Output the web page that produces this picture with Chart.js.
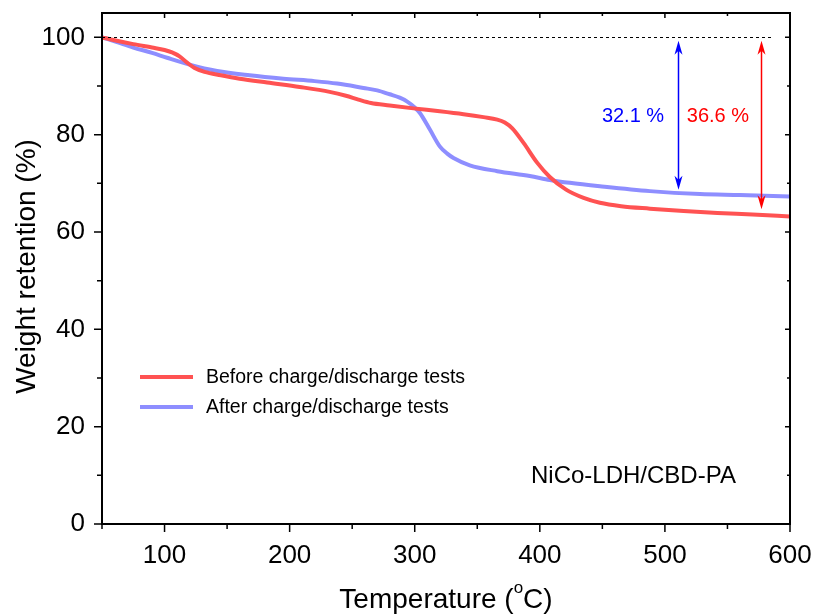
<!DOCTYPE html>
<html>
<head>
<meta charset="utf-8">
<script src="https://cdn.jsdelivr.net/npm/chart.js@4.4.1/dist/chart.umd.min.js"></script>
<style>
  html, body { margin: 0; padding: 0; background: #fff; }
  #wrap { width: 818px; height: 616px; }
</style>
</head>
<body>
<div id="wrap"><canvas id="c" width="818" height="616"></canvas></div>
<script>
// ---- Data ----
const seriesLabels = ['Before charge/discharge tests', 'After charge/discharge tests'];

const beforeTemps = [50, 60, 75, 90, 100, 106, 112, 118, 124, 132, 145, 160, 182, 208, 232, 245, 255, 265, 280, 299, 320, 339, 355, 366, 372, 378, 387, 398, 408, 421, 435, 448, 465, 488, 515, 542, 570, 600];
const beforeValues = [100, 99.4, 98.6, 97.9, 97.4, 96.9, 96.1, 94.8, 93.7, 92.9, 92.2, 91.5, 90.7, 89.8, 88.8, 88.0, 87.2, 86.5, 86.0, 85.4, 84.8, 84.2, 83.6, 83.1, 82.5, 81.3, 78.3, 74.2, 71.3, 68.7, 67.0, 66.0, 65.3, 64.8, 64.3, 63.9, 63.6, 63.2];

const afterTemps = [50, 62, 75, 90, 102, 120, 142, 168, 195, 220, 238, 259, 270, 280, 288, 294, 300, 304, 312, 320, 326, 331, 344, 366, 392, 408, 424, 448, 488, 528, 560, 600];
const afterValues = [100, 99.0, 97.9, 96.8, 95.8, 94.4, 93.1, 92.2, 91.5, 91.0, 90.5, 89.6, 89.1, 88.3, 87.6, 86.8, 85.6, 84.5, 81.1, 77.6, 76.1, 75.2, 73.7, 72.5, 71.5, 70.7, 70.1, 69.4, 68.4, 67.8, 67.6, 67.3];

const xTickLabels = [100, 200, 300, 400, 500, 600];
const yTickLabels = [0, 20, 40, 60, 80, 100];

// reference (100 %) dashed line
const refLineValue = 100;
const refLineRange = [50, 586];

// loss arrows and their labels
const arrowTemps = [510.5, 577];
const arrowTop = [99.3, 99.3];
const arrowBottom = [68.7, 64.7];
const lossLabels = ['32.1 %', '36.6 %'];
const lossLabelTemps = [474.5, 542.4];
const lossLabelValues = [83.7, 83.7];

const sampleName = 'NiCo-LDH/CBD-PA';
const xTitleMain = 'Temperature (';
const xTitleSup = 'o';
const xTitleEnd = 'C)';
const yTitle = 'Weight retention (%)';

// ---- Styles ----
const FONT = '"Liberation Sans", Arial, sans-serif';
const redLine = 'rgb(255,82,82)';
const blueLine = 'rgb(142,142,255)';
const redArrow = '#ff0000';
const blueArrow = '#0000ff';

const toPts = (xs, ys) => xs.map((x, i) => ({ x: x, y: ys[i] }));

function arrowHead(ctx, x, y, dir, color) {
  ctx.fillStyle = color;
  ctx.beginPath();
  ctx.moveTo(x, y);
  ctx.lineTo(x - 4, y - dir * 14);
  ctx.lineTo(x, y - dir * 10);
  ctx.lineTo(x + 4, y - dir * 14);
  ctx.closePath();
  ctx.fill();
}

const decorPlugin = {
  id: 'decor',
  afterDatasetsDraw(chart) {
    const { ctx, chartArea: a, scales: { x, y } } = chart;
    ctx.save();

    ctx.strokeStyle = '#000';
    ctx.lineWidth = 1;
    ctx.setLineDash([3, 3]);
    ctx.beginPath();
    const ry = Math.round(y.getPixelForValue(refLineValue)) + 0.5;
    ctx.moveTo(x.getPixelForValue(refLineRange[0]), ry);
    ctx.lineTo(x.getPixelForValue(refLineRange[1]), ry);
    ctx.stroke();
    ctx.setLineDash([]);

    const arrowColors = [blueArrow, redArrow];
    arrowTemps.forEach((t, i) => {
      const px = Math.round(x.getPixelForValue(t)) + 0.5;
      const yt = y.getPixelForValue(arrowTop[i]);
      const yb = y.getPixelForValue(arrowBottom[i]);
      ctx.strokeStyle = arrowColors[i];
      ctx.lineWidth = 1.5;
      ctx.beginPath();
      ctx.moveTo(px, yt + 8);
      ctx.lineTo(px, yb - 8);
      ctx.stroke();
      arrowHead(ctx, px, yt, -1, arrowColors[i]);
      arrowHead(ctx, px, yb, 1, arrowColors[i]);
    });

    ctx.font = '20px ' + FONT;
    ctx.textAlign = 'center';
    ctx.textBaseline = 'middle';
    lossLabels.forEach((s, i) => {
      ctx.fillStyle = arrowColors[i];
      ctx.fillText(s, x.getPixelForValue(lossLabelTemps[i]), y.getPixelForValue(lossLabelValues[i]));
    });

    const legendColors = [redLine, blueLine];
    ctx.font = '19.5px ' + FONT;
    ctx.textAlign = 'left';
    ctx.textBaseline = 'middle';
    seriesLabels.forEach((s, i) => {
      const ly = 377 + i * 30;
      ctx.strokeStyle = legendColors[i];
      ctx.lineWidth = 4;
      ctx.beginPath();
      ctx.moveTo(140, ly);
      ctx.lineTo(193, ly);
      ctx.stroke();
      ctx.fillStyle = '#000';
      ctx.fillText(s, 206, ly + 1);
    });

    ctx.font = '24px ' + FONT;
    ctx.textBaseline = 'alphabetic';
    ctx.fillStyle = '#000';
    ctx.fillText(sampleName, 531, 483);

    ctx.restore();
  },
  afterDraw(chart) {
    const { ctx, chartArea: a, scales: { x, y } } = chart;
    ctx.save();
    ctx.strokeStyle = '#000';
    ctx.lineWidth = 2;
    ctx.strokeRect(a.left, a.top, a.right - a.left, a.bottom - a.top);

    ctx.lineWidth = 1.5;
    ctx.beginPath();
    for (let t = 50; t <= 600; t += 50) {
      const px = x.getPixelForValue(t);
      const major = t % 100 === 0;
      ctx.moveTo(px, a.bottom); ctx.lineTo(px, a.bottom + (major ? 8 : 5));
      ctx.moveTo(px, a.top); ctx.lineTo(px, a.top + (major ? 5 : 3));
    }
    for (let v = 0; v <= 100; v += 10) {
      const py = y.getPixelForValue(v);
      const major = v % 20 === 0;
      ctx.moveTo(a.left, py); ctx.lineTo(a.left - (major ? 8 : 5), py);
      ctx.moveTo(a.right, py); ctx.lineTo(a.right - (major ? 5 : 3), py);
    }
    ctx.stroke();

    ctx.fillStyle = '#000';
    ctx.font = '28px ' + FONT;
    ctx.textBaseline = 'alphabetic';
    const w1 = ctx.measureText(xTitleMain).width;
    ctx.font = '17px ' + FONT;
    const wSup = ctx.measureText(xTitleSup).width;
    ctx.font = '28px ' + FONT;
    const w3 = ctx.measureText(xTitleEnd).width;
    const total = w1 + wSup + w3;
    const cx = (a.left + a.right) / 2;
    const sx = cx - total / 2;
    const base = 608;
    ctx.textAlign = 'left';
    ctx.fillText(xTitleMain, sx, base);
    ctx.font = '17px ' + FONT;
    ctx.fillText(xTitleSup, sx + w1, base - 15);
    ctx.font = '28px ' + FONT;
    ctx.fillText(xTitleEnd, sx + w1 + wSup, base);

    ctx.translate(35, (a.top + a.bottom) / 2 - 2);
    ctx.rotate(-Math.PI / 2);
    ctx.textAlign = 'center';
    ctx.fillText(yTitle, 0, 0);
    ctx.restore();
  }
};

function evenTicks(from, to, step) {
  const out = [];
  for (let v = from; v <= to + 1e-9; v += step) out.push({ value: v });
  return out;
}

new Chart(document.getElementById('c'), {
  type: 'line',
  data: {
    datasets: [
      { label: seriesLabels[0], data: toPts(beforeTemps, beforeValues), borderColor: redLine, borderWidth: 4, pointRadius: 0, cubicInterpolationMode: 'monotone', fill: false },
      { label: seriesLabels[1], data: toPts(afterTemps, afterValues), borderColor: blueLine, borderWidth: 4, pointRadius: 0, cubicInterpolationMode: 'monotone', fill: false }
    ]
  },
  options: {
    responsive: false,
    animation: false,
    devicePixelRatio: 1,
    layout: { padding: { left: 0, top: 13, right: 28, bottom: 0 } },
    plugins: { legend: { display: false }, tooltip: { enabled: false } },
    scales: {
      x: {
        type: 'linear', min: 50, max: 600,
        afterBuildTicks(s) { s.ticks = evenTicks(50, 600, 50); },
        afterFit(s) { s.height = 92; s.paddingLeft = 0; s.paddingRight = 0; },
        ticks: {
          autoSkip: false, maxRotation: 0, padding: 8,
          color: '#000', font: { family: FONT, size: 26 },
          callback: v => xTickLabels.includes(v) ? String(v) : ''
        },
        grid: { display: true, drawOnChartArea: false, drawTicks: true, tickLength: 8, tickColor: 'rgba(0,0,0,0)' },
        border: { display: false }
      },
      y: {
        min: 0, max: 105,
        afterBuildTicks(s) { s.ticks = evenTicks(0, 100, 10); },
        afterFit(s) { s.width = 102; s.paddingTop = 0; s.paddingBottom = 0; },
        ticks: {
          autoSkip: false, padding: 9,
          color: '#000', font: { family: FONT, size: 26 },
          callback: v => yTickLabels.includes(v) ? String(v) : ''
        },
        grid: { display: true, drawOnChartArea: false, drawTicks: true, tickLength: 8, tickColor: 'rgba(0,0,0,0)' },
        border: { display: false }
      }
    }
  },
  plugins: [decorPlugin]
});
</script>
</body>
</html>
